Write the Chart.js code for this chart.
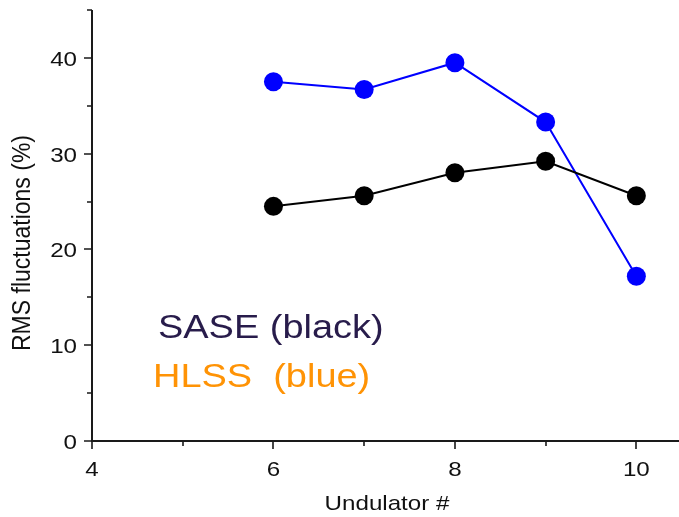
<!DOCTYPE html>
<html>
<head>
<meta charset="utf-8">
<script src="https://cdn.jsdelivr.net/npm/chart.js@4.4.1/dist/chart.umd.min.js"></script>
<style>
  html, body { margin: 0; padding: 0; background: #fff; }
  #wrap { position: relative; width: 679px; height: 517px; }
</style>
</head>
<body>
<div id="wrap"><canvas id="rmsChart"></canvas></div>
<script>
// Undulator number vs RMS fluctuation
const undulators = [6, 7, 8, 9, 10];
const saseRms = [24.5, 25.6, 28.0, 29.2, 25.6];
const hlssRms = [37.5, 36.7, 39.5, 33.3, 17.2];

const xMajorTicks = [4, 6, 8, 10];
const xMinorTicks = [5, 7, 9];
const yMajorTicks = [0, 10, 20, 30, 40];
const yMinorTicks = [5, 15, 25, 35, 45];

const axisColor = '#1a1a1a';
const textFont = '"Liberation Sans", Arial, sans-serif';
const stretch = 1.15;

// draws text a little wider than the font, like the original figure
function wideText(ctx, text, x, y, align, font, color) {
  ctx.save();
  ctx.font = font;
  ctx.fillStyle = color;
  ctx.textBaseline = 'alphabetic';
  const w = ctx.measureText(text).width * stretch;
  let left = x;
  if (align === 'center') left = x - w / 2;
  if (align === 'right') left = x - w;
  ctx.translate(left, y);
  ctx.scale(stretch, 1);
  ctx.textAlign = 'left';
  ctx.fillText(text, 0, 0);
  ctx.restore();
}

const axesPlugin = {
  id: 'axesPlugin',
  afterDraw(chart) {
    const ctx = chart.ctx;
    const xs = chart.scales.x;
    const ys = chart.scales.y;
    const area = chart.chartArea;
    const tickFont = '21px ' + textFont;

    ctx.save();
    ctx.strokeStyle = axisColor;
    ctx.lineWidth = 2;

    // axis lines
    ctx.beginPath();
    ctx.moveTo(area.left, ys.getPixelForValue(45));
    ctx.lineTo(area.left, area.bottom);
    ctx.lineTo(area.right, area.bottom);
    ctx.stroke();

    // tick marks
    ctx.lineWidth = 1.6;
    ctx.beginPath();
    xMajorTicks.forEach(v => {
      const px = Math.round(xs.getPixelForValue(v));
      ctx.moveTo(px, area.bottom);
      ctx.lineTo(px, area.bottom + 8);
    });
    xMinorTicks.forEach(v => {
      const px = Math.round(xs.getPixelForValue(v));
      ctx.moveTo(px, area.bottom);
      ctx.lineTo(px, area.bottom + 5);
    });
    yMajorTicks.forEach(v => {
      const py = Math.round(ys.getPixelForValue(v));
      ctx.moveTo(area.left, py);
      ctx.lineTo(area.left - 8, py);
    });
    yMinorTicks.forEach(v => {
      const py = Math.round(ys.getPixelForValue(v));
      ctx.moveTo(area.left, py);
      ctx.lineTo(area.left - 5, py);
    });
    ctx.stroke();
    ctx.restore();

    // tick labels
    xMajorTicks.forEach(v => {
      wideText(ctx, String(v), xs.getPixelForValue(v), area.bottom + 35, 'center', tickFont, '#111');
    });
    yMajorTicks.forEach(v => {
      wideText(ctx, String(v), area.left - 15, ys.getPixelForValue(v) + 8, 'right', tickFont, '#111');
    });

    // axis titles
    wideText(ctx, 'Undulator #', 387, 510, 'center', '21px ' + textFont, '#111');

    ctx.save();
    ctx.translate(30, 243);
    ctx.rotate(-Math.PI / 2);
    ctx.scale(1, 1.1);
    ctx.font = '23px ' + textFont;
    ctx.fillStyle = '#111';
    ctx.textAlign = 'center';
    ctx.textBaseline = 'alphabetic';
    ctx.fillText('RMS fluctuations (%)', 0, 0);
    ctx.restore();

    // series notes
    wideText(ctx, 'SASE (black)', 158, 338, 'left', '33px ' + textFont, '#281c4b');
    wideText(ctx, 'HLSS  (blue)', 153, 387, 'left', '33px ' + textFont, '#ff9305');
  }
};

const ctx = document.getElementById('rmsChart').getContext('2d');

const rmsChart = new Chart(ctx, {
  type: 'line',
  data: {
    datasets: [{
      label: 'SASE',
      data: undulators.map((u, i) => ({ x: u, y: saseRms[i] })),
      borderColor: '#000000',
      backgroundColor: '#000000',
      borderWidth: 2,
      pointRadius: 9.5,
      pointHoverRadius: 9.5,
      pointBorderWidth: 0,
      clip: false
    }, {
      label: 'HLSS',
      data: undulators.map((u, i) => ({ x: u, y: hlssRms[i] })),
      borderColor: '#0000ff',
      backgroundColor: '#0000ff',
      borderWidth: 2,
      pointRadius: 9.5,
      pointHoverRadius: 9.5,
      pointBorderWidth: 0,
      clip: false
    }]
  },
  options: {
    responsive: true,
    maintainAspectRatio: false,
    animation: false,
    layout: {
      autoPadding: false,
      padding: { top: 10, right: 0, left: 0, bottom: 0 }
    },
    plugins: {
      legend: { display: false },
      tooltip: { enabled: false }
    },
    scales: {
      x: {
        type: 'linear',
        min: 4,
        max: 10.47,
        grid: { display: false },
        border: { display: false },
        ticks: { display: false },
        afterFit: scale => { scale.height = 76; }
      },
      y: {
        min: 0,
        max: 45,
        grid: { display: false },
        border: { display: false },
        ticks: { display: false },
        afterFit: scale => { scale.width = 92; }
      }
    }
  },
  plugins: [axesPlugin]
});
</script>
</body>
</html>
